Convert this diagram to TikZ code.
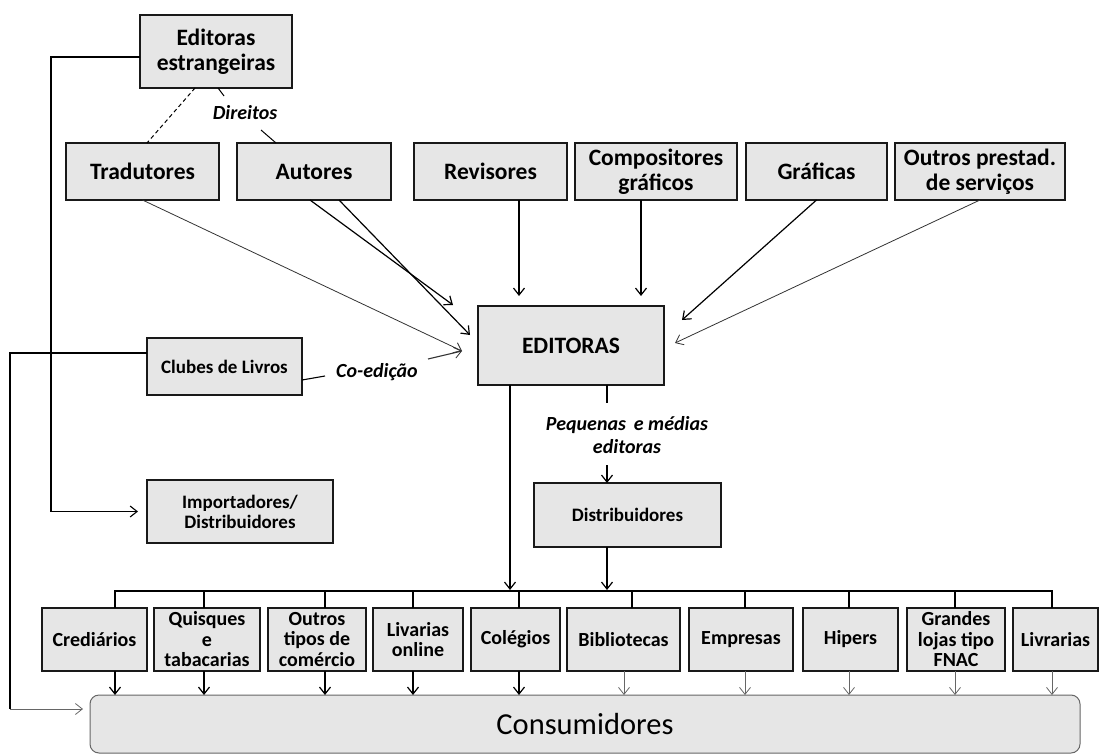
\documentclass[tikz,border=0pt]{standalone}
\usepackage{fontspec}
\setmainfont{Carlito}
\usetikzlibrary{arrows.meta}
\definecolor{boxgray}{HTML}{E6E6E6}
\tikzset{
  bx/.style={draw=black!90, line width=1.6pt, fill=boxgray, inner sep=0pt, outer sep=0pt, align=center,
    font=\bfseries\fontsize{19}{20}\selectfont},
  big/.style={font=\bfseries\fontsize{23.5}{25}\selectfont},
  bottom/.style={font=\bfseries\fontsize{20}{20.5}\selectfont},
  lbl/.style={inner sep=1pt, align=center, font=\bfseries\itshape\fontsize{20}{23.5}\selectfont},
  tip/.style={-{Straight Barb[length=7pt,width=11pt,line width=1.2pt]}},
  ln/.style={line width=1.4pt, draw=black},
  arr/.style={ln, tip},
  thinln/.style={line width=0.8pt, draw=black!80},
  thinarr/.style={thinln, -{Straight Barb[length=7pt,width=11pt,line width=0.8pt]}},
  grayarr/.style={line width=0.8pt, draw=black!60, -{Straight Barb[length=7pt,width=11pt,line width=0.8pt]}},
}
\newcommand{\placebox}[7][]{\node[bx,#1,minimum width={(#5-#3)*1pt},minimum height={(#6-#4)*1pt}] (#2) at ({(#3+#5)/2},{(#4+#6)/2}) {#7};}
\begin{document}
\begin{tikzpicture}[x=1pt,y=-1pt]
\useasboundingbox (0,0) rectangle (1099,754);
% top row
\placebox[big]{ee}{140}{15}{292}{88}{Editoras\\estrangeiras}
\placebox[big]{trad}{66}{143}{219}{200}{Tradutores}
\placebox[big]{aut}{237}{143}{391}{200}{Autores}
\placebox[big]{rev}{414}{143}{567}{200}{Revisores}
\placebox[big]{comp}{575}{143}{737}{200}{Compositores\\gráficos}
\placebox[big]{graf}{746}{143}{887}{200}{Gráficas}
\placebox[big]{outp}{895}{143}{1065}{200}{Outros prestad.\\de serviços}
% middle
\placebox[big]{edi}{478}{306}{664}{385}{EDITORAS}
\placebox{clubes}{147}{338}{302}{395}{Clubes de Livros}
\placebox{imp}{147}{480}{333}{543}{Importadores/\\Distribuidores}
\placebox{dist}{534}{483}{721}{547}{Distribuidores}
% bottom row
\placebox[bottom]{cred}{42}{608}{147}{671}{Crediários}
\placebox[bottom]{quis}{154}{608}{260}{671}{Quisques\\e\\tabacarias}
\placebox[bottom]{outt}{268}{608}{366}{671}{Outros\\tipos de\\comércio}
\placebox[bottom]{livo}{373}{608}{463}{671}{Livarias\\online}
\placebox[bottom]{col}{471}{608}{560}{671}{Colégios}
\placebox[bottom]{bib}{567}{608}{680}{671}{Bibliotecas}
\placebox[bottom]{emp}{689}{608}{793}{671}{Empresas}
\placebox[bottom]{hip}{803}{608}{898}{671}{Hipers}
\placebox[bottom]{grand}{907}{608}{1005}{671}{Grandes\\lojas tipo\\FNAC}
\placebox[bottom]{livr}{1013}{608}{1098}{671}{Livrarias}
\node[draw=black!60, line width=1pt, fill=boxgray, rounded corners=9pt, inner sep=0pt,
  minimum width=990pt, minimum height=58pt, font=\fontsize{30.5}{31}\selectfont] (cons) at (585,724) {Consumidores};

% left feeders
\coordinate (lx) at (51,0);
\coordinate (ew) at ([yshift=-5.5pt]ee.west);
\draw[ln, line width=1.2pt, -{Straight Barb[length=7pt,width=11pt,line width=1.1pt]}, shorten >=9pt] (ew) -- (ew -| lx) |- (imp.west);
\coordinate (cx) at (10,0);
\coordinate (cw) at ([yshift=13.5pt]clubes.west);
\coordinate (ct) at (83,709);
\draw[line width=1.1pt] (cw) -- (cw -| cx) -- (cx |- ct);
\draw[grayarr] (cx |- ct) -- (ct);

% Editoras estrangeiras relations
\draw[dashed, line width=1pt, dash pattern=on 4pt off 3pt] ([xshift=-21pt]ee.south) -- ([xshift=4.5pt]trad.north);
\node[lbl] (dir) at (245,113) {Direitos};
\coordinate (d1) at (224,96);
\coordinate (d2) at (261,130);
\draw[line width=1pt] ([xshift=2pt]ee.south) -- (d1);
\draw[line width=1pt] (d2) -- ([xshift=-38pt]aut.north);

% arrows into EDITORAS
\coordinate (a1) at (453,305);
\coordinate (a2) at (470,335);
\coordinate (a3) at (462,351);
\coordinate (a4) at (519,296);
\coordinate (a5) at (641,296);
\coordinate (a6) at (682,320);
\coordinate (a7) at (675,343);
\draw[arr, line width=1.2pt] ([xshift=-4pt]aut.south) -- (a1);
\draw[arr, line width=1.2pt] ([xshift=25pt]aut.south) -- (a2);
\draw[thinarr] (trad.south) -- (a3);
\draw[arr] (rev.south -| a4) -- (a4);
\draw[arr] (comp.south -| a5) -- (a5);
\draw[arr, line width=1.2pt] (graf.south) -- (a6);
\draw[thinarr] (outp.south) -- (a7);

% Co-edicao
\node[lbl] (coed) at (377,372) {Co-edição};
\coordinate (c0) at ([yshift=-13.5pt]clubes.east);
\coordinate (c1) at (325,376);
\coordinate (c2) at (428,359);
\draw[line width=1.1pt] (c0) -- (c1);
\draw[thinarr, line width=1.1pt] (c2) -- (a3);

% EDITORAS down
\coordinate (e1) at (510,590);
\coordinate (e2) at (607,403);
\coordinate (e3) at (607,465);
\coordinate (e4) at (607,590);
\draw[arr] (edi.south -| e1) -- (e1);
\draw[ln] (edi.south -| e2) -- (e2);
\node[lbl] (peq) at (627,435) {Pequenas \,e médias\\editoras};
\draw[arr] (e3) -- (dist.north -| e3);
\draw[arr] (dist.south -| e4) -- (e4);

% bus
\coordinate (bl) at (115,591);
\coordinate (br) at (1052,591);
\draw[ln, line width=1.6pt, line join=miter] (cred.north -| bl) -- (bl) -- (br) -- (livr.north -| br);
\foreach \n/\x in {quis/204, outt/325, livo/413, col/519, bib/632, emp/745, hip/849, grand/955}
  \draw[ln, line width=1.6pt] (\x,591) -- (\n.north -| \x,0);

% to consumidores
\foreach \n/\x in {cred/115, quis/204, outt/325, livo/413, col/519}
  \draw[arr] (\n.south -| \x,0) -- (\x,695);
\foreach \n/\x in {bib/624, emp/745, hip/849, grand/955, livr/1052}
  \draw[grayarr] (\n.south -| \x,0) -- (\x,695);
\end{tikzpicture}
\end{document}
